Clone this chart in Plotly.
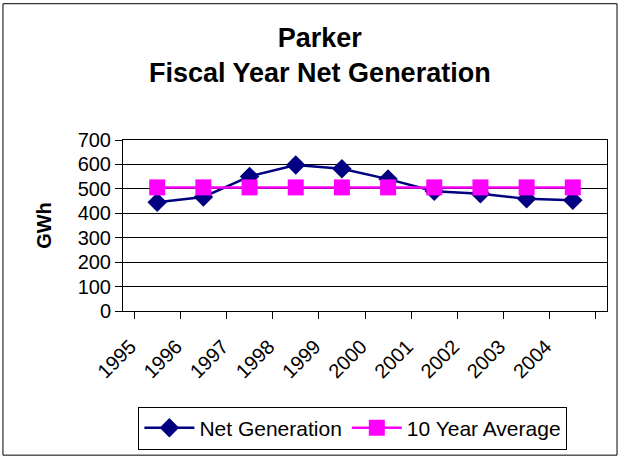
import plotly.graph_objects as go

years = ['1995', '1996', '1997', '1998', '1999', '2000', '2001', '2002', '2003', '2004']
net_generation = [445, 467, 551, 598, 582, 540, 490, 480, 459, 453]
ten_year_avg = [506, 506, 506, 506, 506, 506, 506, 506, 506, 506]

font = 'Liberation Sans, Arial, sans-serif'

fig = go.Figure()
fig.add_trace(go.Scatter(x=years, y=net_generation, name='Net Generation', mode='lines+markers',
                         line=dict(color='#000080', width=2.5),
                         marker=dict(symbol='diamond', size=15, color='#000080')))
fig.add_trace(go.Scatter(x=years, y=ten_year_avg, name='10 Year Average', mode='lines+markers',
                         line=dict(color='#ff00ff', width=2.5),
                         marker=dict(symbol='square', size=16, color='#ff00ff')))

# outer chart border
fig.add_shape(type='rect', xref='paper', yref='paper', x0=-0.248, x1=1.0207, y0=-0.843, y1=1.797,
              line=dict(color='black', width=1))

fig.update_layout(
    width=621, height=460,
    margin=dict(l=123, r=14, t=140, b=148),
    paper_bgcolor='white', plot_bgcolor='white',
    font=dict(family=font, size=20, color='black'),
    title=dict(text='<b>Parker<br>Fiscal Year Net Generation</b>', x=0.515, xref='container',
               xanchor='center', y=0.897, yanchor='middle', font=dict(size=27)),
    showlegend=True,
    legend=dict(orientation='h', x=0.475, xanchor='center', y=-0.55, yanchor='top',
                bordercolor='black', borderwidth=1, font=dict(size=21),
                itemwidth=50),
    xaxis=dict(type='category', tickson='boundaries', ticks='outside', ticklen=7, tickcolor='black',
               showline=True, linecolor='black', linewidth=1, mirror=True, showgrid=False,
               tickangle=-45, automargin=False, ticklabelstandoff=15, ticklabelshift=-27),
    yaxis=dict(range=[0, 700], dtick=100, ticks='outside', ticklen=7, tickcolor='black',
               showline=True, linecolor='black', linewidth=1, mirror=True,
               showgrid=True, gridcolor='black', gridwidth=1, automargin=False,
               title=dict(text='<b>GWh</b>', font=dict(size=20), standoff=20)),
)

# page has a default body margin; drop it so the chart sits at the window corner
fig.write_html('out.html', config={'displayModeBar': False},
               post_script="document.body.style.margin='0';document.body.style.overflow='hidden';")
